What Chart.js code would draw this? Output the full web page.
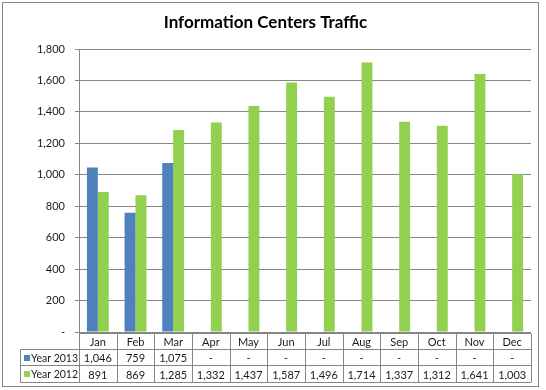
<!DOCTYPE html>
<html>
<head>
<meta charset="utf-8">
<script src="https://cdn.jsdelivr.net/npm/chart.js@4/dist/chart.umd.min.js"></script>
<style>
  body { margin: 0; background: #fff; }
  #wrap { width: 546px; height: 390px; position: relative; }
</style>
</head>
<body>
<div id="wrap"><canvas id="trafficChart"></canvas></div>
<script>
// months shown along the bottom / in the data table
const months = ['Jan', 'Feb', 'Mar', 'Apr', 'May', 'Jun', 'Jul', 'Aug', 'Sep', 'Oct', 'Nov', 'Dec'];
// visitors per month
const year2013 = [1046, 759, 1075, null, null, null, null, null, null, null, null, null];
const year2012 = [891, 869, 1285, 1332, 1437, 1587, 1496, 1714, 1337, 1312, 1641, 1003];
const seriesNames = ['Year 2013', 'Year 2012'];
const seriesColors = ['#4F81BD', '#92D050'];

const FONT = 'Lato, "Open Sans", sans-serif';
const LINE = '#868686';

function fmt(v) {
    if (v === null || v === undefined || v === 0) return '-';
    return v.toLocaleString('en-US');
}

// dibuja el marco y la tabla de datos bajo el grafico
const dataTablePlugin = {
    id: 'dataTable',
    beforeDraw(chart) {
        const c = chart.ctx;
        c.save();
        c.fillStyle = '#fff';
        c.fillRect(0, 0, chart.width, chart.height);
        c.restore();
    },
    afterDraw(chart) {
        const c = chart.ctx;
        const area = chart.chartArea;
        const xs = chart.scales.x;
        const colW = (area.right - area.left) / months.length;
        const rowH = 16.4;
        const top = Math.round(area.bottom) + 0.5;
        const rows = [top, top + rowH, top + 2 * rowH, top + 3 * rowH].map(y => Math.round(y) + 0.5);
        const legendLeft = 20.5;

        c.save();
        c.strokeStyle = LINE;
        c.lineWidth = 1;
        c.beginPath();
        // lineas horizontales
        c.moveTo(area.left, rows[0]); c.lineTo(area.right, rows[0]);
        for (let r = 1; r < 4; r++) {
            c.moveTo(legendLeft, rows[r]); c.lineTo(area.right, rows[r]);
        }
        // lineas verticales
        c.moveTo(legendLeft, rows[1]); c.lineTo(legendLeft, rows[3]);
        for (let k = 0; k <= months.length; k++) {
            const x = Math.round(area.left + k * colW) + 0.5;
            c.moveTo(x, rows[0]); c.lineTo(x, rows[3]);
        }
        c.stroke();

        // marco exterior
        c.strokeRect(2.5, 2.5, 536, 384);

        c.fillStyle = '#1a1a1a';
        c.font = '11px ' + FONT;
        c.textBaseline = 'middle';
        c.textAlign = 'center';
        months.forEach((m, i) => {
            const x = xs.getPixelForValue(i);
            c.fillText(m, x, (rows[0] + rows[1]) / 2 + 1);
            c.fillText(fmt(year2013[i]), x, (rows[1] + rows[2]) / 2 + 1);
            c.fillText(fmt(year2012[i]), x, (rows[2] + rows[3]) / 2 + 1);
        });

        // claves de la leyenda
        c.textAlign = 'left';
        c.font = '10.5px ' + FONT;
        seriesNames.forEach((name, r) => {
            const yMid = (rows[r + 1] + rows[r + 2]) / 2;
            c.fillStyle = seriesColors[r];
            c.fillRect(24, Math.round(yMid - 3), 6, 6);
            c.fillStyle = '#1a1a1a';
            c.fillText(name, 31, yMid + 1);
        });
        c.restore();
    }
};

const ctx = document.getElementById('trafficChart').getContext('2d');
new Chart(ctx, {
    type: 'bar',
    data: {
        labels: months,
        datasets: [{
            label: seriesNames[0],
            data: year2013,
            backgroundColor: seriesColors[0],
            borderWidth: 0,
            categoryPercentage: 0.58,
            barPercentage: 1.0
        }, {
            label: seriesNames[1],
            data: year2012,
            backgroundColor: seriesColors[1],
            borderWidth: 0,
            categoryPercentage: 0.58,
            barPercentage: 1.0
        }]
    },
    options: {
        responsive: true,
        maintainAspectRatio: false,
        animation: false,
        layout: { padding: { left: 0, right: 15, top: 0, bottom: 58 } },
        plugins: {
            legend: { display: false },
            tooltip: { enabled: false },
            title: {
                display: true,
                text: 'Information Centers Traffic',
                color: '#000',
                font: { family: FONT, size: 17, weight: 'bold' },
                padding: { top: 12, bottom: 16.6 }
            }
        },
        scales: {
            x: {
                display: false,
                grid: { display: false }
            },
            y: {
                min: 0,
                max: 1800,
                border: { display: true, color: LINE },
                grid: { color: LINE, tickLength: 4, drawTicks: true },
                ticks: {
                    stepSize: 200,
                    padding: 10,
                    color: '#1a1a1a',
                    font: { family: FONT, size: 11 },
                    callback: v => fmt(v)
                },
                afterFit(scale) { scale.width = 79; }
            }
        }
    },
    plugins: [dataTablePlugin]
});
</script>
</body>
</html>
